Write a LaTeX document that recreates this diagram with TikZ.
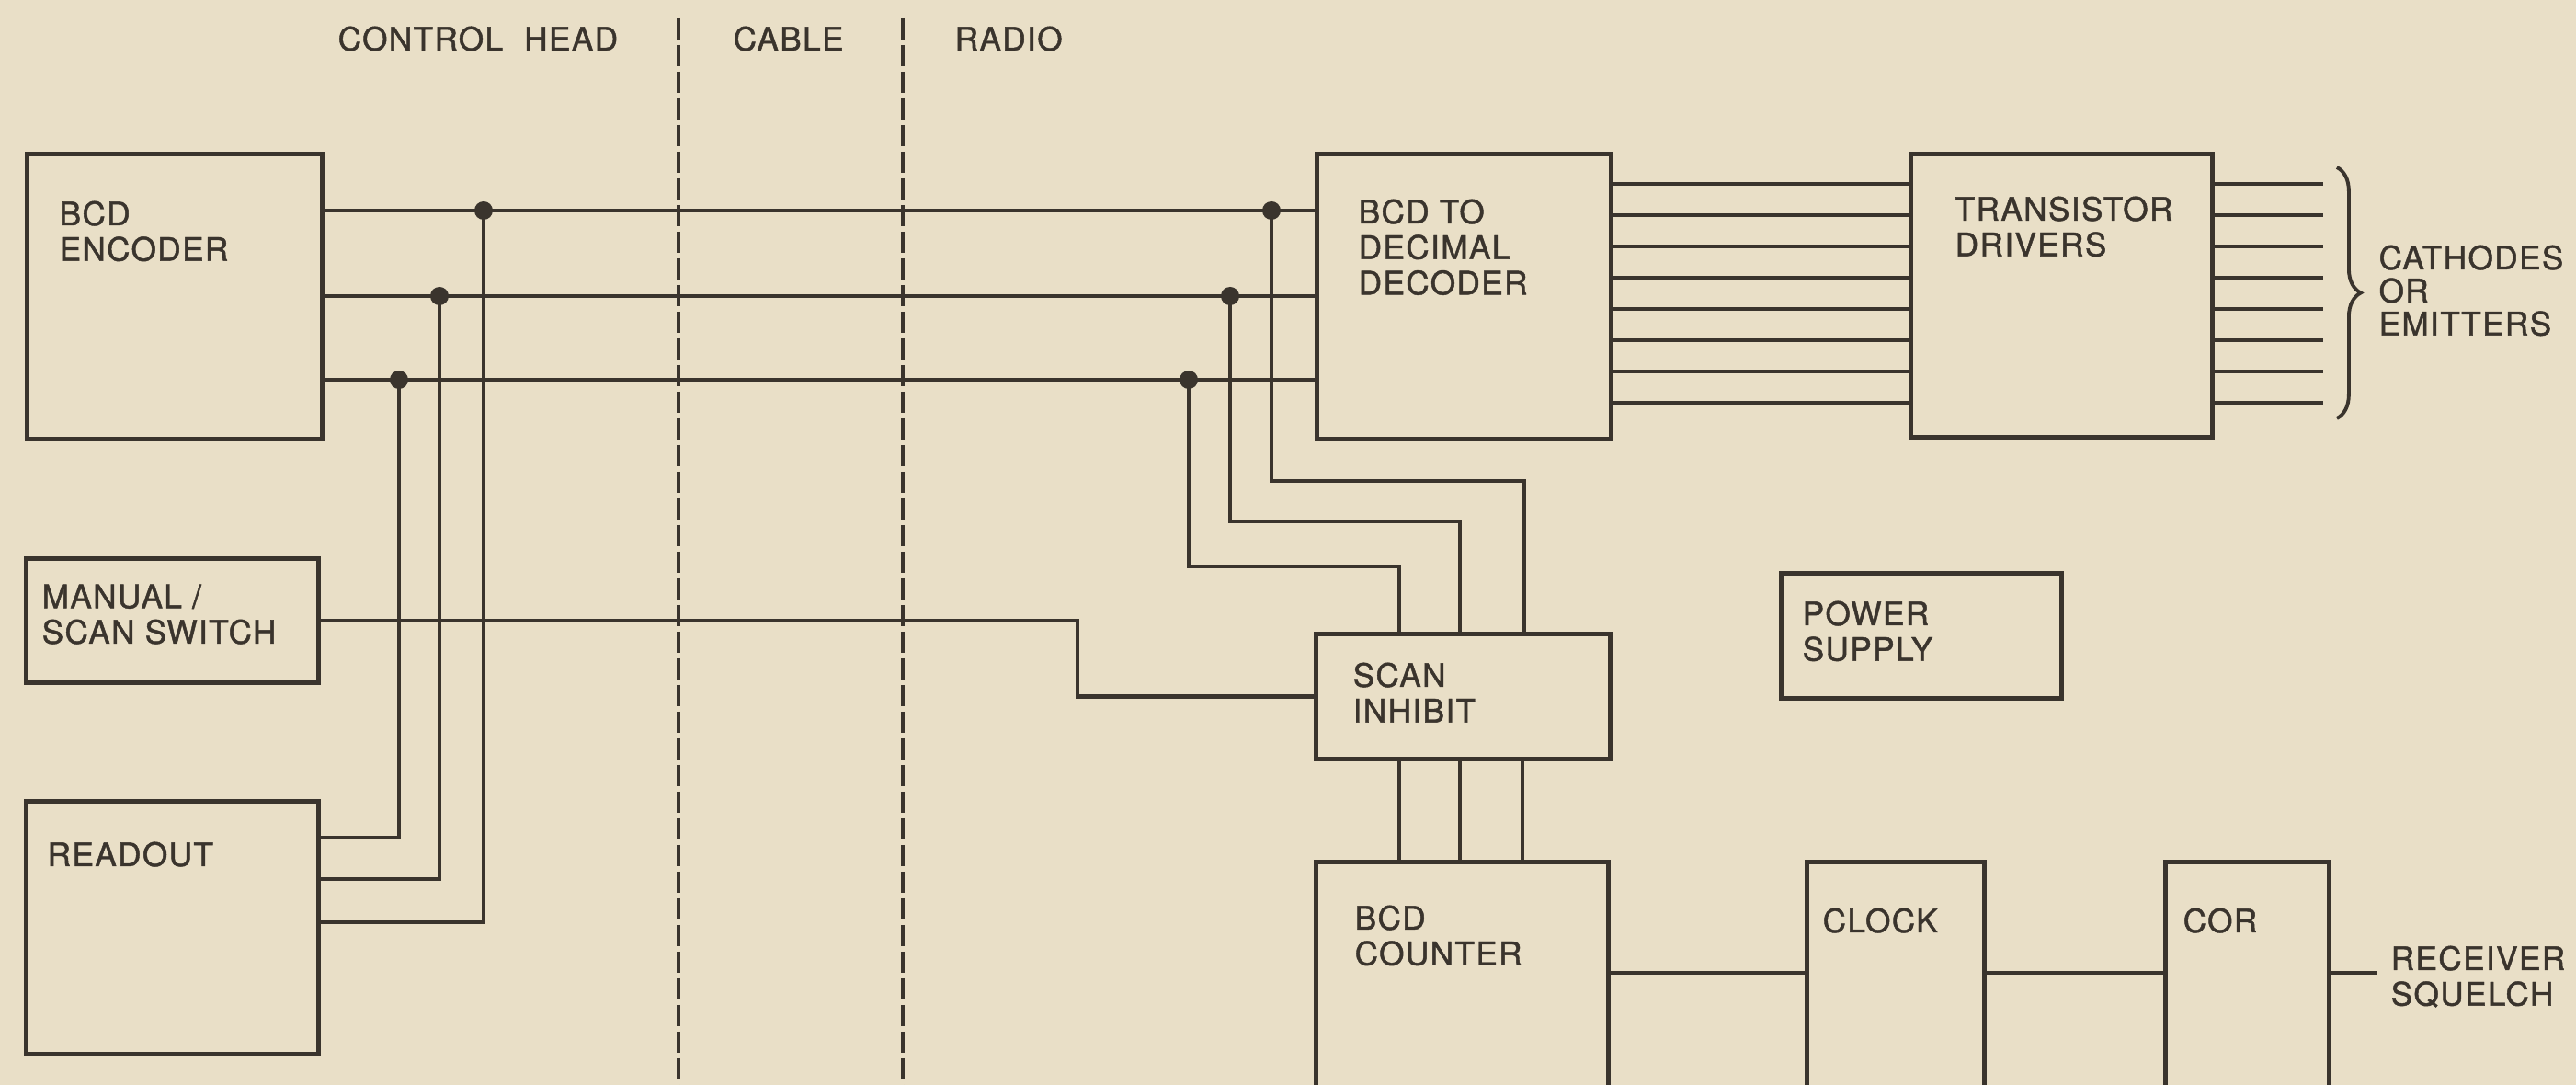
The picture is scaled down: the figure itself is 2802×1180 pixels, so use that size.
\documentclass[tikz,border=0pt]{standalone}
\usepackage{fontspec}
\setmainfont{TeX Gyre Heros}[LetterSpace=4, FakeBold=1.3]
\usetikzlibrary{positioning, calc, decorations.pathreplacing}
\definecolor{scanPaper}{HTML}{E9DFC7}
\definecolor{scanInk}{HTML}{3A342D}

\begin{document}
\begin{tikzpicture}[
    x=0.1mm, y=-0.1mm,
    blk/.style={
        draw=scanInk, line width=1.4pt, anchor=north west, inner sep=0pt
    },
    txt/.style={
        font=\fontsize{10}{11}\selectfont, text=scanInk, anchor=north west,
        inner sep=0pt, align=left
    },
    wire/.style={draw=scanInk, line width=1.25pt},
    dot/.style={circle, fill=scanInk, inner sep=0pt, minimum size=2mm},
    sep/.style={draw=scanInk, line width=0.9pt, dash pattern=on 2.3mm off 0.6mm}
]
\useasboundingbox (0,0) rectangle (2802,1180);
\clip (0,0) rectangle (2802,1180);
\fill[scanPaper] (0,0) rectangle (2802,1180);

% === Section headings and dividers ===
\node[txt] (t_head) at (367,28) {CONTROL\hspace{1.2mm} HEAD};
\node[txt] (t_cable) at (797,28) {CABLE};
\node[txt] (t_radio) at (1038,28) {RADIO};
\draw[sep] (738,20) -- (738,1180);
\draw[sep] (982,20) -- (982,1180);

% === Control head ===
\node[blk, minimum width=32.1mm, minimum height=31mm] (enc) at (27,165) {};
\node[txt] (enc_t) at ($(enc.north west)+(37,53)$) {BCD\\ENCODER};

\node[blk, minimum width=31.8mm, minimum height=13.5mm] (man) at (26,605) {};
\node[txt] (man_t) at ($(man.north west)+(19,30)$) {MANUAL /\\SCAN SWITCH};

\node[blk, minimum width=31.8mm, minimum height=27.5mm] (rdo) at (26,869) {};
\node[txt] (rdo_t) at ($(rdo.north west)+(25,46)$) {READOUT};

% === Radio ===
\node[blk, minimum width=32mm, minimum height=31mm] (dec) at (1430,165) {};
\node[txt] (dec_t) at ($(dec.north west)+(47,51)$) {BCD TO\\DECIMAL\\DECODER};

\node[blk, minimum width=32.8mm, minimum height=30.8mm] (drv) at (2076,165) {};
\node[txt] (drv_t) at ($(drv.north west)+(50,48)$) {TRANSISTOR\\DRIVERS};

\node[blk, minimum width=32mm, minimum height=13.6mm] (inh) at (1429,687) {};
\node[txt] (inh_t) at ($(inh.north west)+(42,33)$) {SCAN\\INHIBIT};

\node[blk, minimum width=30.5mm, minimum height=13.6mm] (pwr) at (1935,621) {};
\node[txt] (pwr_t) at ($(pwr.north west)+(25,32)$) {POWER\\SUPPLY};

\node[blk, minimum width=31.8mm, minimum height=40mm] (ctr) at (1429,935) {};
\node[txt] (ctr_t) at ($(ctr.north west)+(44,49)$) {BCD\\COUNTER};

\node[blk, minimum width=19.3mm, minimum height=40mm] (clk) at (1963,935) {};
\node[txt] (clk_t) at ($(clk.north west)+(19,52)$) {CLOCK};

\node[blk, minimum width=17.8mm, minimum height=40mm] (cor) at (2353,935) {};
\node[txt] (cor_t) at ($(cor.north west)+(21,52)$) {COR};

% === Bus between encoder and decoder ===
\coordinate (bus1) at (0,229);
\coordinate (bus2) at (0,322);
\coordinate (bus3) at (0,413);
\coordinate (sq) at (0,1058);
\foreach \b in {bus1,bus2,bus3}
    \draw[wire] (enc.east |- \b) -- (dec.west |- \b);

\node[dot] (ch1) at (526,229) {};
\node[dot] (ch2) at (478,322) {};
\node[dot] (ch3) at (434,413) {};
\node[dot] (rd1) at (1383,229) {};
\node[dot] (rd2) at (1338,322) {};
\node[dot] (rd3) at (1293,413) {};

% taps down to the readout
\draw[wire] (ch1.center) |- ($(rdo.north east)+(0,134)$);
\draw[wire] (ch2.center) |- ($(rdo.north east)+(0,87)$);
\draw[wire] (ch3.center) |- ($(rdo.north east)+(0,42)$);

% taps down to scan inhibit
\draw[wire] (rd3.center) |- ($(inh.north west)+(93,-71)$) -- ($(inh.north west)+(93,0)$);
\draw[wire] (rd2.center) |- ($(inh.north west)+(159,-120)$) -- ($(inh.north west)+(159,0)$);
\draw[wire] (rd1.center) |- ($(inh.north west)+(229,-164)$) -- ($(inh.north west)+(229,0)$);

% manual / scan switch to scan inhibit
\coordinate (mj) at (1172,0);
\draw[wire] (man.east) -- (man.east -| mj) |- (inh.west);

% scan inhibit to counter
\foreach \dx in {93,159,227}
    \draw[wire] ($(inh.south west)+(\dx,0)$) -- ($(ctr.north west)+(\dx,0)$);

% === Decoder outputs ===
\foreach \i in {0,...,7} {
    \draw[wire] ($(dec.north east)+(0,35+34*\i)$) -- ($(drv.north west)+(0,35+34*\i)$);
    \draw[wire] ($(drv.north east)+(0,35+34*\i)$) -- ++(118,0);
}
\draw[scanInk, line width=1.1pt, decorate, decoration={brace, amplitude=2.6mm}]
    ($(drv.north east)+(133,17)$) -- ($(drv.north east)+(133,290)$);
\node[txt, font=\fontsize{10}{10.2}\selectfont] (cath_t) at ($(drv.north east)+(178,101)$) {CATHODES\\OR\\EMITTERS};

% === Counter chain ===
\draw[wire] (ctr.east |- sq) -- (clk.west |- sq);
\draw[wire] (clk.east |- sq) -- (cor.west |- sq);
\draw[wire] (cor.east |- sq) -- ++(50,0);
\node[txt] (rx_t) at (2600,1028) {RECEIVER\\SQUELCH};

\end{tikzpicture}
\end{document}
